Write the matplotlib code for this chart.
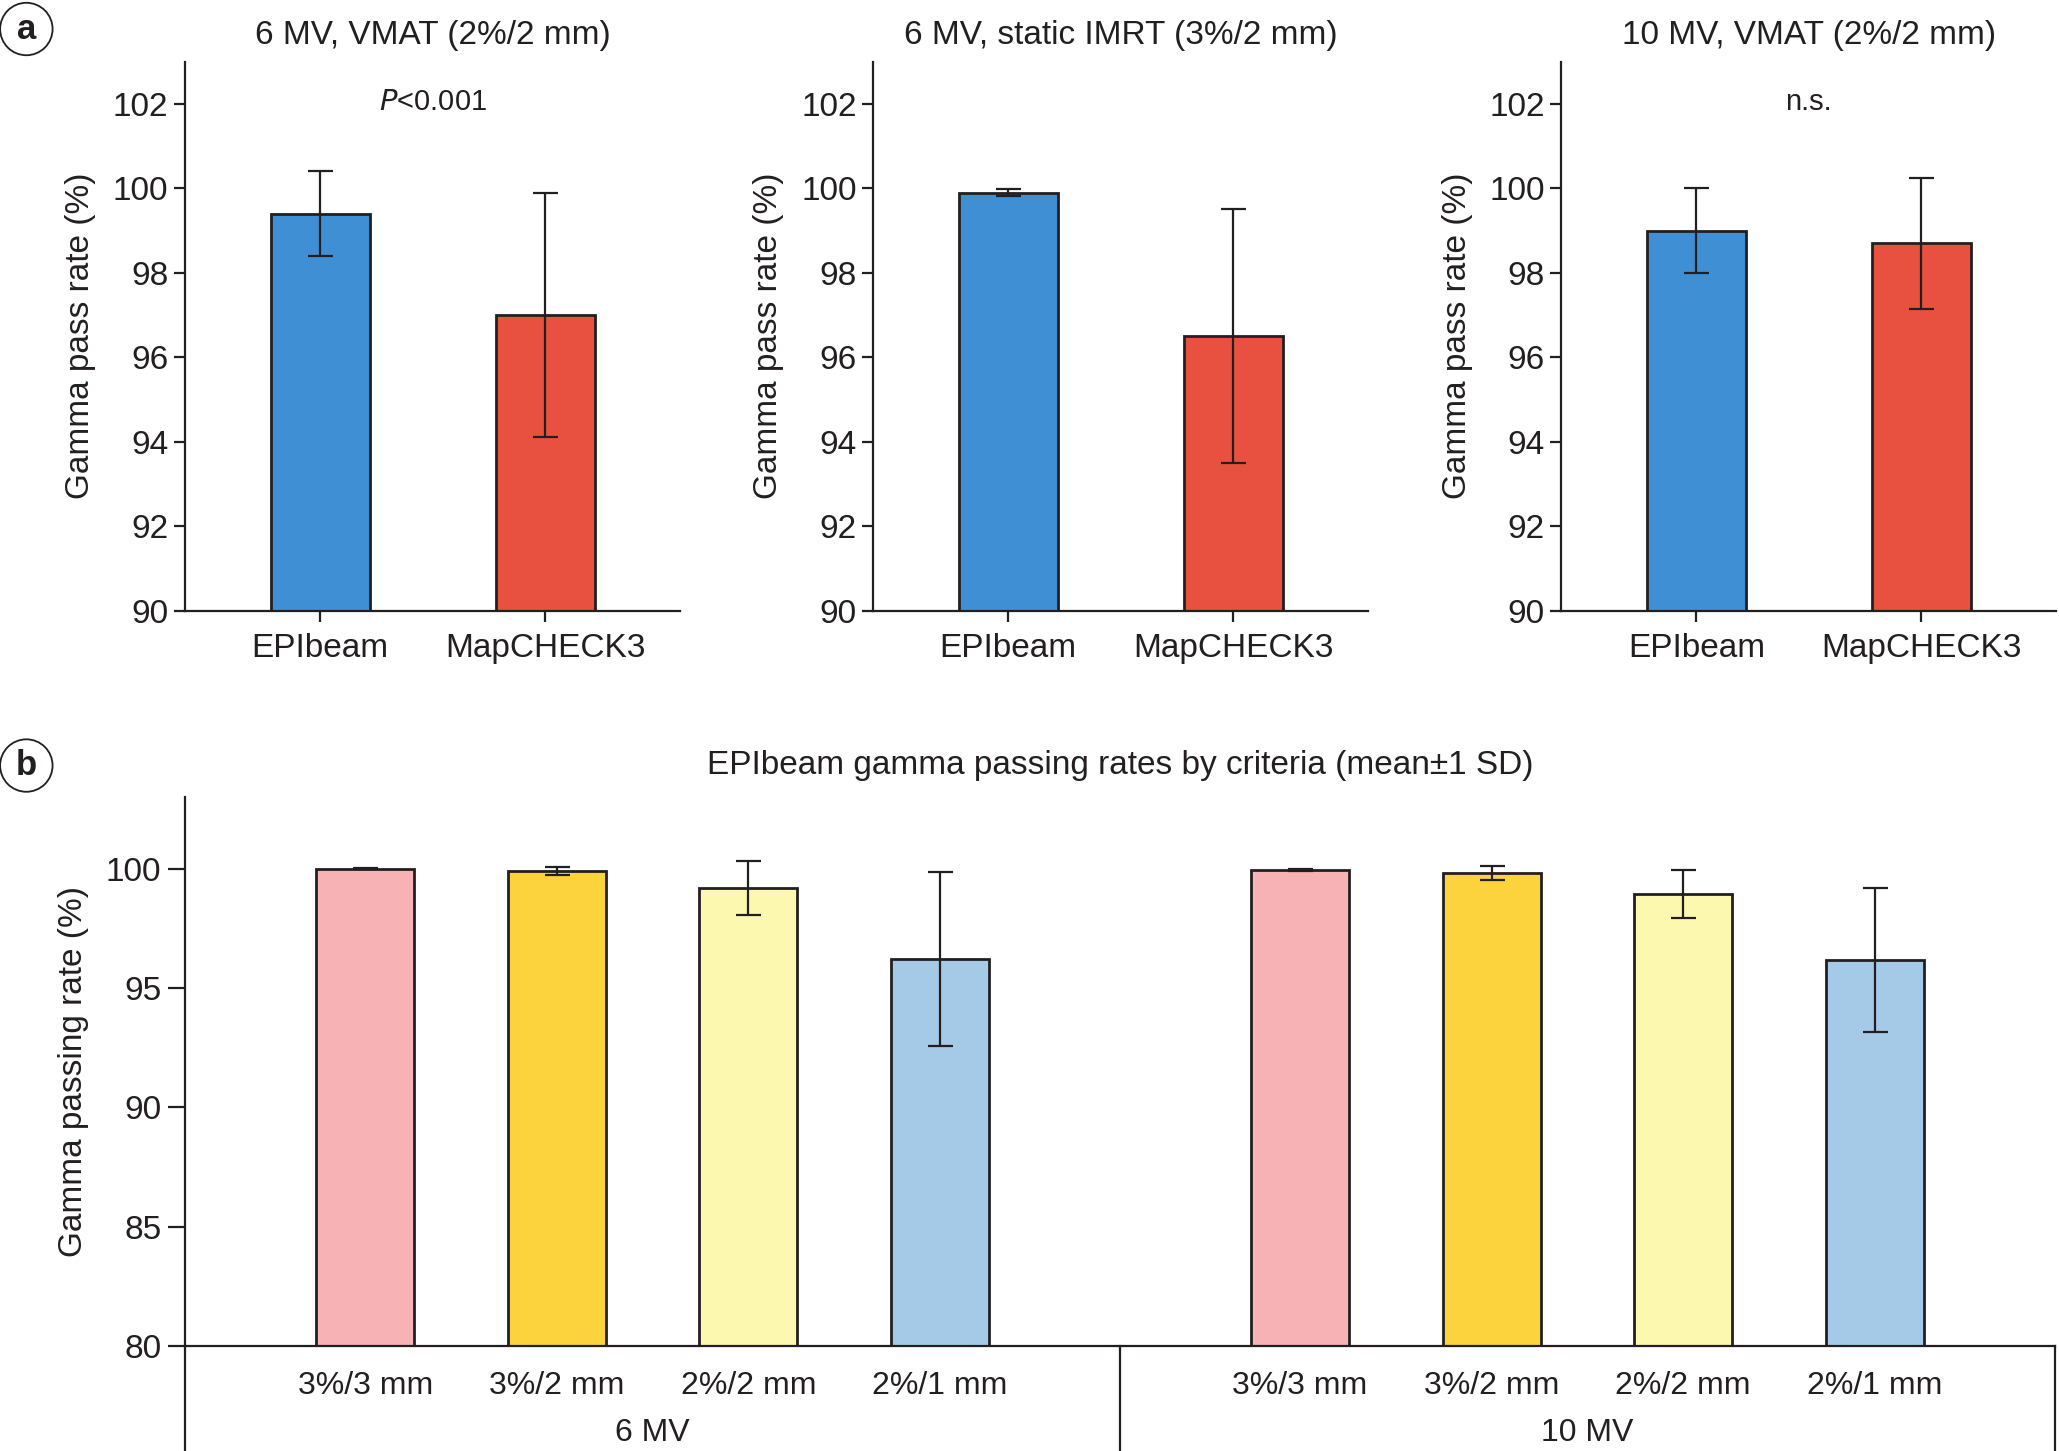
import numpy as np
import matplotlib
matplotlib.use("Agg")
import matplotlib.pyplot as plt

plt.rcParams['font.family'] = ['Liberation Sans', 'DejaVu Sans']
DARK = '#231f20'

# panel a data
devices = ["EPIbeam", "MapCHECK3"]
vmat6_mean = [99.4, 97.0]
vmat6_sd = [1.0, 2.9]
imrt6_mean = [99.9, 96.5]
imrt6_sd = [0.08, 3.0]
vmat10_mean = [99.0, 98.7]
vmat10_sd = [1.0, 1.55]
a_titles = ["6 MV, VMAT (2%/2 mm)", "6 MV, static IMRT (3%/2 mm)", "10 MV, VMAT (2%/2 mm)"]
a_notes = ["$P$<0.001", "", "n.s."]
a_colors = ['#3f8fd5', '#e8513f']

# panel b data
criteria = ["3%/3 mm", "3%/2 mm", "2%/2 mm", "2%/1 mm"]
energies = ["6 MV", "10 MV"]
mv6_mean = [99.99, 99.90, 99.2, 96.2]
mv6_sd = [0.02, 0.16, 1.13, 3.64]
mv10_mean = [99.94, 99.81, 98.95, 96.17]
mv10_sd = [0.05, 0.28, 1.0, 3.01]
b_colors = ['#f6b2b4', '#fcd33c', '#fdf8b0', '#a4cae8']

fig = plt.figure(figsize=(20.59, 14.51), dpi=100)

a_means = [vmat6_mean, imrt6_mean, vmat10_mean]
a_sds = [vmat6_sd, imrt6_sd, vmat10_sd]
lefts = [0.0899, 0.4241, 0.7583]
for i in range(3):
    ax = fig.add_axes([lefts[i], 0.5792, 0.2404, 0.3783])
    x = np.arange(len(devices))
    ax.bar(x, a_means[i], width=0.44, color=a_colors, edgecolor=DARK, linewidth=2, zorder=2)
    ax.errorbar(x, a_means[i], yerr=a_sds[i], fmt='none', ecolor=DARK,
                elinewidth=1.6, capsize=9, capthick=1.6, zorder=3)
    ax.set_xlim(-0.6, 1.6)
    ax.set_ylim(90, 103)
    ax.set_yticks([90, 92, 94, 96, 98, 100, 102])
    ax.set_xticks(x)
    ax.set_xticklabels(devices)
    ax.spines['top'].set_visible(False)
    ax.spines['right'].set_visible(False)
    for s in ['left', 'bottom']:
        ax.spines[s].set_linewidth(1.6)
        ax.spines[s].set_color(DARK)
    ax.tick_params(axis='both', direction='out', length=8, width=1.6, color=DARK,
                   labelsize=24, labelcolor=DARK, pad=4)
    ax.tick_params(axis='x', pad=8)
    ax.set_ylabel("Gamma pass rate (%)", fontsize=24, color=DARK, labelpad=12)
    ax.set_title(a_titles[i], fontsize=24, color=DARK, pad=13)
    if a_notes[i]:
        ax.text(0.5, 102.05, a_notes[i], ha='center', va='center', fontsize=21, color=DARK)

# panel b
axb = fig.add_axes([0.0899, 0.0724, 0.9081, 0.3783])
xb6 = np.arange(4)
xb10 = np.arange(4) + 4.88
axb.bar(xb6, mv6_mean, width=0.51, color=b_colors, edgecolor=DARK, linewidth=2, zorder=2)
axb.bar(xb10, mv10_mean, width=0.51, color=b_colors, edgecolor=DARK, linewidth=2, zorder=2)
axb.errorbar(xb6, mv6_mean, yerr=mv6_sd, fmt='none', ecolor=DARK,
             elinewidth=1.6, capsize=9, capthick=1.6, zorder=3)
axb.errorbar(xb10, mv10_mean, yerr=mv10_sd, fmt='none', ecolor=DARK,
             elinewidth=1.6, capsize=9, capthick=1.6, zorder=3)
axb.set_xlim(-0.94, 8.82)
axb.set_ylim(80, 103)
axb.set_yticks([80, 85, 90, 95, 100])
axb.set_xticks(np.concatenate([xb6, xb10]))
axb.set_xticklabels(criteria + criteria)
axb.spines['top'].set_visible(False)
axb.spines['right'].set_visible(False)
for s in ['left', 'bottom']:
    axb.spines[s].set_linewidth(1.6)
    axb.spines[s].set_color(DARK)
axb.tick_params(axis='y', direction='out', length=12, width=1.6, color=DARK,
                labelsize=24, labelcolor=DARK, pad=5)
axb.tick_params(axis='x', length=0, labelsize=23, labelcolor=DARK, pad=18)
axb.set_ylabel("Gamma passing rate (%)", fontsize=24, color=DARK, labelpad=12)

tr = axb.get_xaxis_transform()
for xs in [-0.94, 3.94, 8.82]:
    axb.plot([xs, xs], [0, -0.2], transform=tr, color=DARK, lw=1.6, clip_on=False)
for name, xs in zip(energies, [xb6, xb10]):
    axb.text(xs.mean(), -0.158, name, transform=tr, ha='center', va='center',
             fontsize=23, color=DARK)

fig.text(0.544, 0.4724, "EPIbeam gamma passing rates by criteria (mean\u00b11 SD)",
         ha='center', va='center', fontsize=24, color=DARK)

# panel letters
for letter, yy in [("a", 0.980), ("b", 0.4724)]:
    fig.text(0.0128, yy, letter, ha='center', va='center', fontsize=25, weight='bold',
             color=DARK, bbox=dict(boxstyle='circle,pad=0.28', fc='white', ec=DARK, lw=1.3))

fig.savefig("out.png", dpi=100)
